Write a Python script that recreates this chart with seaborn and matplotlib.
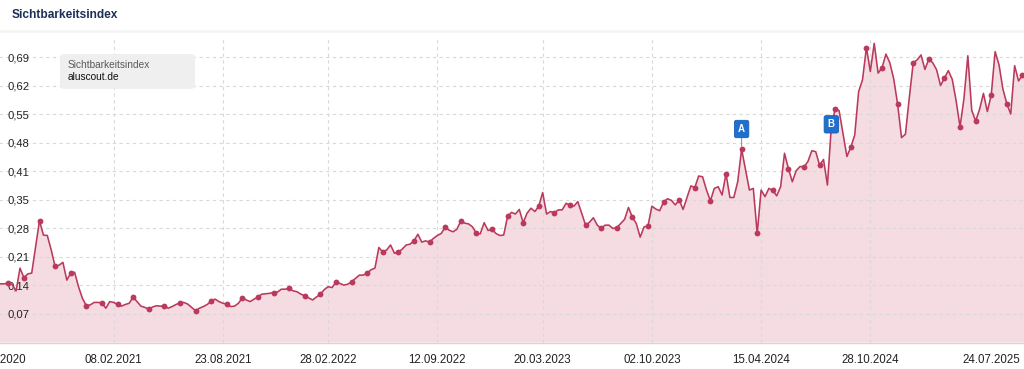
import numpy as np
import pandas as pd
import matplotlib
matplotlib.use("Agg")
import matplotlib.pyplot as plt
from matplotlib.patches import FancyBboxPatch
import seaborn as sns

# ---------------- data ----------------
start_date = "2020-07-13"   # weekly values (Mondays)
values = [
    0.142, 0.142, 0.142, 0.144, 0.140, 0.125, 0.180, 0.157, 0.166, 0.168,
    0.232, 0.295, 0.260, 0.259, 0.224, 0.184, 0.187, 0.194, 0.151, 0.168,
    0.170, 0.135, 0.107, 0.089, 0.091, 0.097, 0.097, 0.096, 0.083, 0.099,
    0.097, 0.092, 0.088, 0.092, 0.095, 0.110, 0.099, 0.088, 0.085, 0.081,
    0.086, 0.089, 0.088, 0.088, 0.083, 0.087, 0.092, 0.096, 0.097, 0.093,
    0.085, 0.077, 0.083, 0.087, 0.092, 0.100, 0.105, 0.099, 0.095, 0.093,
    0.087, 0.088, 0.095, 0.108, 0.103, 0.099, 0.105, 0.110, 0.117, 0.118,
    0.119, 0.121, 0.122, 0.129, 0.129, 0.131, 0.125, 0.123, 0.117, 0.113,
    0.108, 0.103, 0.110, 0.117, 0.128, 0.135, 0.133, 0.146, 0.143, 0.139,
    0.141, 0.147, 0.155, 0.163, 0.163, 0.168, 0.176, 0.180, 0.230, 0.219,
    0.224, 0.236, 0.216, 0.219, 0.226, 0.236, 0.238, 0.246, 0.262, 0.243,
    0.246, 0.243, 0.252, 0.259, 0.264, 0.279, 0.272, 0.268, 0.274, 0.294,
    0.289, 0.287, 0.280, 0.264, 0.263, 0.290, 0.271, 0.274, 0.264, 0.259,
    0.260, 0.305, 0.315, 0.311, 0.322, 0.290, 0.313, 0.325, 0.317, 0.330,
    0.363, 0.311, 0.317, 0.314, 0.321, 0.321, 0.337, 0.332, 0.330, 0.341,
    0.313, 0.284, 0.291, 0.302, 0.284, 0.276, 0.284, 0.284, 0.276, 0.278,
    0.288, 0.298, 0.327, 0.303, 0.288, 0.255, 0.280, 0.282, 0.330, 0.323,
    0.319, 0.340, 0.348, 0.344, 0.333, 0.345, 0.322, 0.351, 0.379, 0.375,
    0.403, 0.401, 0.369, 0.343, 0.373, 0.377, 0.357, 0.409, 0.351, 0.351,
    0.389, 0.468, 0.418, 0.369, 0.373, 0.264, 0.369, 0.353, 0.373, 0.368,
    0.355, 0.377, 0.458, 0.421, 0.389, 0.416, 0.426, 0.425, 0.438, 0.464,
    0.462, 0.429, 0.443, 0.381, 0.522, 0.566, 0.561, 0.506, 0.450, 0.473,
    0.502, 0.607, 0.636, 0.714, 0.656, 0.724, 0.652, 0.665, 0.698, 0.677,
    0.638, 0.577, 0.496, 0.504, 0.593, 0.677, 0.684, 0.696, 0.661, 0.686,
    0.677, 0.660, 0.622, 0.640, 0.658, 0.637, 0.585, 0.522, 0.590, 0.694,
    0.562, 0.536, 0.564, 0.603, 0.559, 0.599, 0.704, 0.672, 0.613, 0.578,
    0.553, 0.670, 0.633, 0.647, 0.652,
]
dates = pd.date_range(start_date, periods=len(values), freq="7D")

x_tick_dates = ["2020-07-13", "2021-02-08", "2021-08-23", "2022-02-28", "2022-09-12",
                "2023-03-20", "2023-10-02", "2024-04-15", "2024-10-28", "2025-07-24"]
x_tick_labels = ["13.07.2020", "08.02.2021", "23.08.2021", "28.02.2022", "12.09.2022",
                 "20.03.2023", "02.10.2023", "15.04.2024", "28.10.2024", "24.07.2025"]
y_ticks = [0.069, 0.138, 0.207, 0.276, 0.345, 0.414, 0.483, 0.552, 0.621, 0.690]
y_tick_labels = ["0,07", "0,14", "0,21", "0,28", "0,35", "0,41", "0,48", "0,55", "0,62", "0,69"]

event_labels = ["A", "B"]
event_dates = ["2024-03-11", "2024-08-19"]

title = "Sichtbarkeitsindex"
legend_title = "Sichtbarkeitsindex"
legend_domain = "aluscout.de"

# ---------------- style ----------------
LINE = "#b93a5c"
FILL = "#f4d6de"
GRID = "#d9d9d9"
W, H = 1024, 369

sns.set_theme(style="white")
plt.rcParams["font.family"] = ["Liberation Sans", "DejaVu Sans"]

fig = plt.figure(figsize=(W / 100, H / 100), dpi=100)

# axes geometry in pixels (plot area extends past the left border, as in the crop)
left_px, right_px = -22.9, 1024.0
top_px, bottom_px = 38.0, 342.5
ax = fig.add_axes([left_px / W, 1 - bottom_px / H,
                   (right_px - left_px) / W, (bottom_px - top_px) / H])

df = pd.DataFrame({"date": dates, "value": values})
ax.fill_between(df["date"], df["value"], 0, color=FILL, alpha=0.85, linewidth=0, zorder=1)
sns.lineplot(data=df, x="date", y="value", ax=ax, color=LINE, linewidth=1.15,
             marker="o", markersize=4.2, markeredgewidth=0, markevery=slice(3, None, 4),
             zorder=3)

t0 = pd.Timestamp("2020-08-03")
ax.set_xlim(t0 - pd.Timedelta(days=56), t0 + pd.Timedelta(days=7 * 260.4))
ax.set_ylim(0, 0.737)

ax.set_xticks(pd.to_datetime(x_tick_dates))
ax.set_xticklabels(x_tick_labels)
ax.set_yticks(y_ticks)
ax.set_yticklabels(y_tick_labels)
ax.set_xlabel("")
ax.set_ylabel("")

ax.set_axisbelow(False)
ax.grid(True, color=GRID, linestyle=(0, (3, 3)), linewidth=0.8)
ax.xaxis.get_gridlines()[-1].set_visible(False)

for s in ["top", "right", "left"]:
    ax.spines[s].set_visible(False)
ax.spines["bottom"].set_color("#e3d0d5")
ax.spines["bottom"].set_linewidth(1.0)

ax.tick_params(axis="x", length=0, pad=8, labelsize=8.3, labelcolor="#222222")
ax.tick_params(axis="y", length=0, pad=-(8 - left_px) * 0.72, labelsize=8.1,
               labelcolor="#222222")
for lab in ax.get_yticklabels():
    lab.set_horizontalalignment("left")
xl = ax.get_xticklabels()
xl[-1].set_horizontalalignment("right")

# event markers
for lab, d, dy in zip(event_labels, event_dates, [14.5, 1.8]):
    dt = pd.Timestamp(d)
    v = df.loc[df["date"] == dt, "value"].iloc[0]
    ax.annotate(lab, xy=(dt, v), xytext=(0, dy), textcoords="offset points",
                ha="center", va="center", fontsize=7, fontweight="bold", color="white",
                bbox=dict(boxstyle="round,pad=0.38,rounding_size=0.2", fc="#1f6fcf",
                          ec="#1a5fb3", lw=0.6),
                arrowprops=dict(arrowstyle="-", color="#8a8a8a", lw=0.7,
                                shrinkA=0, shrinkB=2) if dy > 5 else None,
                zorder=5)

# header
fig.text(12 / W, 1 - 15.5 / H, title, fontsize=8.6, fontweight="bold",
         color="#1c2f57", va="center", ha="left")
fig.add_artist(plt.Line2D([0, 1], [1 - 31 / H, 1 - 31 / H], color="#f5f5f5",
                          lw=2, transform=fig.transFigure))

# legend box
box = FancyBboxPatch((60 / W, 1 - 89 / H), 135 / W, 35 / H,
                     boxstyle="round,pad=0,rounding_size=0.006",
                     transform=fig.transFigure, fc="#efefef", ec="none", zorder=6)
fig.add_artist(box)
fig.text(68 / W, 1 - 64.5 / H, legend_title, fontsize=7.3, color="#5a5a5a",
         va="center", ha="left", zorder=7)
fig.text(68 / W, 1 - 77.5 / H, legend_domain, fontsize=7.3, color="#111111",
         va="center", ha="left", zorder=7)

fig.savefig("out.png", dpi=100)
